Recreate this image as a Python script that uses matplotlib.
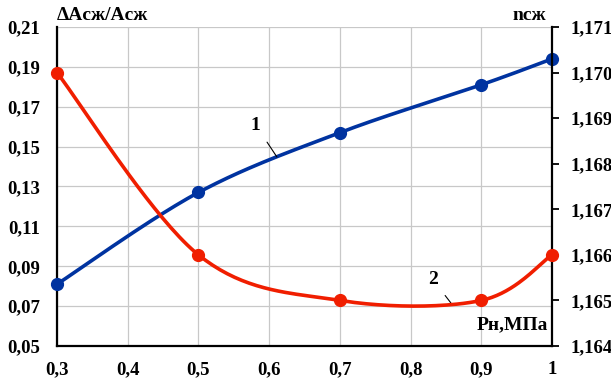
import matplotlib
matplotlib.use("Agg")
import matplotlib.pyplot as plt
import numpy as np
from matplotlib.ticker import FixedLocator, FuncFormatter

# data
p_n = [0.3, 0.5, 0.7, 0.9, 1.0]
dA_rel = [0.081, 0.127, 0.157, 0.181, 0.194]     # curve 1, left axis
n_sg = [1.170, 1.166, 1.165, 1.165, 1.166]        # curve 2, right axis

x_ticks = [0.3, 0.4, 0.5, 0.6, 0.7, 0.8, 0.9, 1.0]
left_ticks = [0.05, 0.07, 0.09, 0.11, 0.13, 0.15, 0.17, 0.19, 0.21]
right_ticks = [1.164, 1.165, 1.166, 1.167, 1.168, 1.169, 1.170, 1.171]

BLUE = "#0033a0"
RED = "#f01e00"
FONT = "Liberation Serif"


def smooth(xs, ys, n=40):
    # Excel-like smoothed line: cubic Bezier with Catmull-Rom control points
    xs = np.asarray(xs, float)
    ys = np.asarray(ys, float)
    pts = np.column_stack([xs, ys])
    out = []
    for i in range(len(pts) - 1):
        p0 = pts[i - 1] if i > 0 else pts[i]
        p1 = pts[i]
        p2 = pts[i + 1]
        p3 = pts[i + 2] if i + 2 < len(pts) else pts[i + 1]
        c1 = p1 + (p2 - p0) / 6
        c2 = p2 - (p3 - p1) / 6
        t = np.linspace(0, 1, n)[:, None]
        seg = ((1 - t) ** 3) * p1 + 3 * ((1 - t) ** 2) * t * c1 + 3 * (1 - t) * t ** 2 * c2 + t ** 3 * p2
        out.append(seg if i == 0 else seg[1:])
    s = np.vstack(out)
    return s[:, 0], s[:, 1]


def comma(v, dec):
    return f"{v:.{dec}f}".replace(".", ",")


fig = plt.figure(figsize=(6.11, 3.79), dpi=100)
ax = fig.add_axes([0.0933, 0.0871, 0.8101, 0.8417])
ax2 = ax.twinx()

ax.set_xlim(0.3, 1.0)
ax.set_ylim(0.05, 0.21)
ax2.set_ylim(1.164, 1.171)

ax.xaxis.set_major_locator(FixedLocator(x_ticks))
ax.xaxis.set_major_formatter(FuncFormatter(lambda v, p: "1" if abs(v - 1) < 1e-9 else comma(v, 1)))
ax.yaxis.set_major_locator(FixedLocator(left_ticks))
ax.yaxis.set_major_formatter(FuncFormatter(lambda v, p: comma(v, 2)))
ax2.yaxis.set_major_locator(FixedLocator(right_ticks))
ax2.yaxis.set_major_formatter(FuncFormatter(lambda v, p: comma(v, 3)))

ax.grid(True, color="#c8c8c8", lw=0.9)
ax.set_axisbelow(True)

for a in (ax, ax2):
    a.spines["top"].set_visible(False)
ax2.spines["left"].set_visible(False)
ax2.spines["bottom"].set_visible(False)
ax.spines["right"].set_visible(False)
for sp in ("left", "bottom"):
    ax.spines[sp].set_linewidth(1.6)
ax2.spines["right"].set_linewidth(1.6)

ax.tick_params(axis="y", length=0, pad=12)
ax.tick_params(axis="x", length=0, pad=11)
ax2.tick_params(axis="y", length=5, width=1.3, direction="out", pad=8)
for lbl in ax.get_xticklabels() + ax.get_yticklabels() + ax2.get_yticklabels():
    lbl.set_fontfamily(FONT)
    lbl.set_fontsize(13.5)
    lbl.set_fontweight("bold")

# curve 1 (left axis)
sx, sy = smooth(p_n, dA_rel)
ax.plot(sx, sy, color=BLUE, lw=2.6, solid_capstyle="round", zorder=3)
ax.plot(p_n, dA_rel, "o", color=BLUE, ms=8.5, zorder=4, clip_on=False)

# curve 2 (right axis) — smoothing done in axis-normalised units
lo, hi = 1.164, 1.171
n_norm = [(v - lo) / (hi - lo) for v in n_sg]
sx2, sy2 = smooth(p_n, n_norm)
ax2.plot(sx2, lo + sy2 * (hi - lo), color=RED, lw=2.6, solid_capstyle="round", zorder=3)
ax2.plot(p_n, n_sg, "o", color=RED, ms=8.5, zorder=4, clip_on=False)

# curve labels with leader lines
ax.annotate("1", xy=(0.611, 0.1448), xytext=(0.581, 0.1608), fontsize=14,
            fontfamily=FONT, fontweight="bold", ha="center", va="center",
            arrowprops=dict(arrowstyle="-", color="black", lw=0.8, shrinkA=5, shrinkB=0))
ax.annotate("2", xy=(0.857, 0.0716), xytext=(0.832, 0.0831), fontsize=14,
            fontfamily=FONT, fontweight="bold", ha="center", va="center",
            arrowprops=dict(arrowstyle="-", color="black", lw=0.8, shrinkA=5, shrinkB=0))

# axis titles
fig.text(57 / 611, 1 - 15 / 379, "ΔAсж/Aсж", fontsize=14, fontfamily=FONT,
         fontweight="bold", ha="left", va="center")
fig.text(546 / 611, 1 - 15 / 379, "nсж", fontsize=14, fontfamily=FONT,
         fontweight="bold", ha="right", va="center")
fig.text(548 / 611, 1 - 325 / 379, "Pн,МПа", fontsize=14, fontfamily=FONT,
         fontweight="bold", ha="right", va="center")

fig.savefig("out.png", dpi=100)
